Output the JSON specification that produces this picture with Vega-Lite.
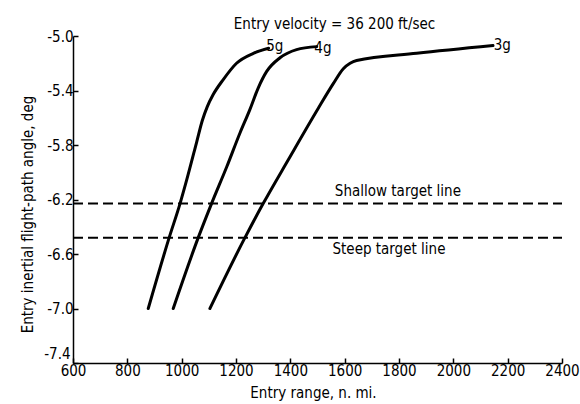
{
  "$schema": "https://vega.github.io/schema/vega-lite/v6.json",
  "width": 489,
  "height": 327,
  "autosize": {"type": "none"},
  "padding": {"left": 73, "top": 36, "right": 18, "bottom": 41},
  "background": "white",
  "config": {
    "view": {"stroke": null},
    "font": "DejaVu Sans Condensed, sans-serif",
    "axis": {"domainColor": "black", "domainWidth": 1.5, "tickColor": "black", "tickWidth": 1.5, "grid": false, "labelColor": "black", "titleColor": "black", "labelFontSize": 15, "titleFontSize": 15, "titleFontWeight": "normal", "labelFont": "DejaVu Sans Condensed, sans-serif", "titleFont": "DejaVu Sans Condensed, sans-serif", "labelFlush": false, "labelOverlap": false}
  },
  "title": {"text": "Entry velocity = 36 200 ft/sec", "anchor": "middle", "dx": 17, "offset": -3, "fontSize": 15, "fontWeight": "normal", "color": "black", "font": "DejaVu Sans Condensed, sans-serif"},
  "datasets": {
    "curves": [
      {"series": "5g", "range": 877, "angle": -7.0},
      {"series": "5g", "range": 954, "angle": -6.48},
      {"series": "5g", "range": 994, "angle": -6.23},
      {"series": "5g", "range": 1018, "angle": -6.06},
      {"series": "5g", "range": 1055, "angle": -5.78},
      {"series": "5g", "range": 1076, "angle": -5.62},
      {"series": "5g", "range": 1094, "angle": -5.52},
      {"series": "5g", "range": 1116, "angle": -5.43},
      {"series": "5g", "range": 1153, "angle": -5.32},
      {"series": "5g", "range": 1202, "angle": -5.2},
      {"series": "5g", "range": 1264, "angle": -5.127},
      {"series": "5g", "range": 1320, "angle": -5.09},
      {"series": "4g", "range": 969, "angle": -7.0},
      {"series": "4g", "range": 1061, "angle": -6.48},
      {"series": "4g", "range": 1110, "angle": -6.23},
      {"series": "4g", "range": 1166, "angle": -5.96},
      {"series": "4g", "range": 1215, "angle": -5.71},
      {"series": "4g", "range": 1251, "angle": -5.54},
      {"series": "4g", "range": 1282, "angle": -5.38},
      {"series": "4g", "range": 1313, "angle": -5.26},
      {"series": "4g", "range": 1362, "angle": -5.16},
      {"series": "4g", "range": 1423, "angle": -5.1},
      {"series": "4g", "range": 1497, "angle": -5.078},
      {"series": "3g", "range": 1104, "angle": -7.0},
      {"series": "3g", "range": 1233, "angle": -6.48},
      {"series": "3g", "range": 1300, "angle": -6.23},
      {"series": "3g", "range": 1392, "angle": -5.91},
      {"series": "3g", "range": 1503, "angle": -5.53},
      {"series": "3g", "range": 1558, "angle": -5.35},
      {"series": "3g", "range": 1595, "angle": -5.24},
      {"series": "3g", "range": 1620, "angle": -5.2},
      {"series": "3g", "range": 1644, "angle": -5.18},
      {"series": "3g", "range": 1865, "angle": -5.127},
      {"series": "3g", "range": 2146, "angle": -5.07}
    ],
    "targets": [
      {"series": "Shallow", "range": 600, "angle": -6.23},
      {"series": "Shallow", "range": 2400, "angle": -6.23},
      {"series": "Steep", "range": 600, "angle": -6.48},
      {"series": "Steep", "range": 2400, "angle": -6.48}
    ],
    "labels": [
      {"label": "5g", "range": 1343, "angle": -5.075, "align": "left"},
      {"label": "4g", "range": 1520, "angle": -5.085, "align": "left"},
      {"label": "3g", "range": 2180, "angle": -5.065, "align": "left"},
      {"label": "Shallow target line", "range": 1796, "angle": -6.14, "align": "center"},
      {"label": "Steep target line", "range": 1763, "angle": -6.56, "align": "center"}
    ]
  },
  "layer": [
    {
      "data": {"name": "curves"},
      "mark": {"type": "line", "color": "black", "strokeWidth": 3, "interpolate": "monotone", "strokeCap": "round"},
      "encoding": {
        "x": {"field": "range", "type": "quantitative", "scale": {"domain": [600, 2400], "nice": false},
          "axis": {"values": [600, 800, 1000, 1200, 1400, 1600, 1800, 2000, 2200, 2400], "format": "d", "tickSize": -5, "labelPadding": 5, "title": "Entry range, n. mi.", "titleY": 22, "titleBaseline": "top", "titleX": 240}},
        "y": {"field": "angle", "type": "quantitative", "scale": {"domain": [-7.4, -5.0], "nice": false, "zero": false},
          "axis": {"values": [-7.4, -7.0, -6.6, -6.2, -5.8, -5.4, -5.0], "labelExpr": "(datum.value < 0 ? '-' : '') + format(abs(datum.value), '.1f')", "labelOffset": {"condition": {"test": "datum.value < -7.3", "value": -10}, "value": 0}, "labelPadding": {"condition": {"test": "datum.value < -7.3", "value": 8}, "value": 5}, "tickSize": -5, "title": "Entry inertial flight-path angle, deg", "titleY": 178, "titlePadding": 8}},
        "detail": {"field": "series"}
      }
    },
    {
      "data": {"name": "targets"},
      "mark": {"type": "line", "color": "black", "strokeWidth": 2, "strokeDash": [10, 5]},
      "encoding": {
        "x": {"field": "range", "type": "quantitative"},
        "y": {"field": "angle", "type": "quantitative"},
        "detail": {"field": "series"}
      }
    },
    {
      "data": {"name": "labels"},
      "mark": {"type": "text", "color": "black", "fontSize": 15, "baseline": "middle"},
      "encoding": {
        "x": {"field": "range", "type": "quantitative"},
        "y": {"field": "angle", "type": "quantitative"},
        "text": {"field": "label"},
        "align": {"field": "align", "type": "nominal", "scale": null}
      }
    }
  ]
}
